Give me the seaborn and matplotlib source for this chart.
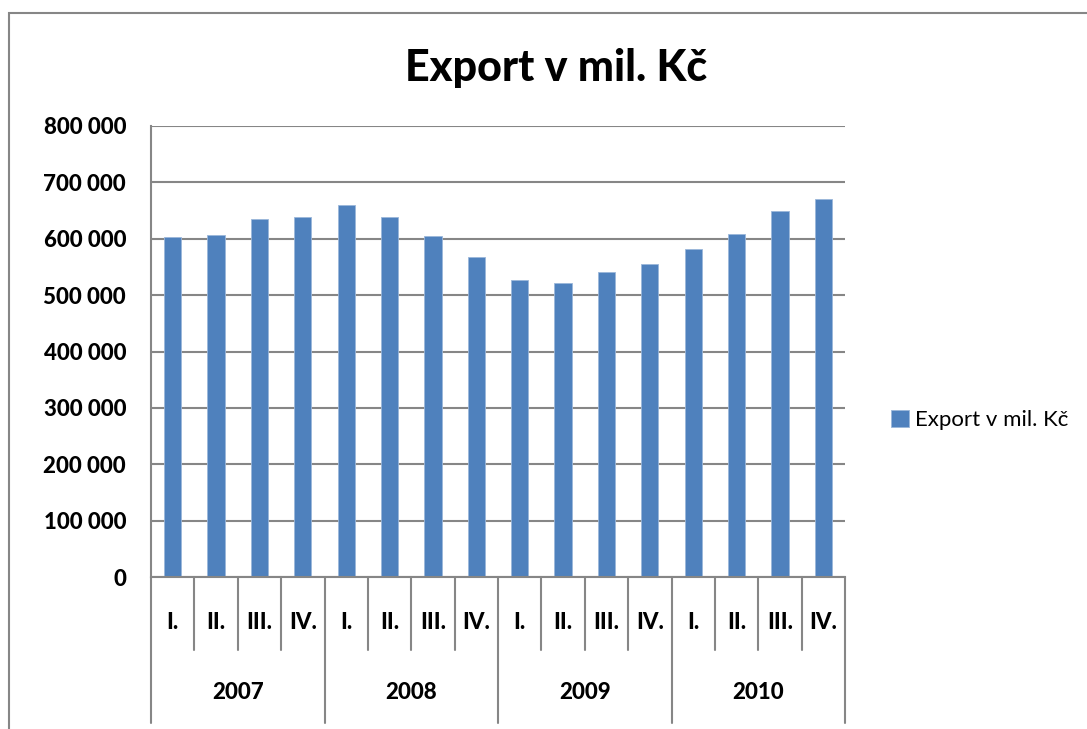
import numpy as np
import pandas as pd
import seaborn as sns
import matplotlib.pyplot as plt
import matplotlib.transforms as mtransforms
from matplotlib.patches import Rectangle

years = ['2007', '2008', '2009', '2010']
quarters = ['I.', 'II.', 'III.', 'IV.']
export = [603000, 607500, 635000, 639000,
          660000, 638000, 605000, 567500,
          527000, 521500, 541500, 555000,
          581000, 608000, 649000, 671000]
series_name = 'Export v mil. Kč'
y_ticks = [0, 100000, 200000, 300000, 400000, 500000, 600000, 700000, 800000]

df = pd.DataFrame({
    'rok': np.repeat(years, 4),
    'ctvrtleti': quarters * 4,
    'hodnota': export,
})
df['kat'] = df['rok'] + ' ' + df['ctvrtleti']

sns.set_style('white')
plt.rcParams['font.family'] = ['Lato', 'DejaVu Sans']
plt.rcParams['text.color'] = 'black'
plt.rcParams['ytick.labelcolor'] = 'black'
grid_c = '#868686'
bar_c = '#4F81BD'
wt = 'black'

fig = plt.figure(figsize=(10.87, 7.29), dpi=100)
# outer chart frame
fig.patches.append(Rectangle((9 / 1087, -0.05), 1.1, 1 - 13 / 729 + 0.05,
                             transform=fig.transFigure, fill=False,
                             edgecolor=grid_c, lw=1.5))
ax = fig.add_axes([151 / 1087, 1 - 577 / 729, (845 - 151) / 1087, (577 - 126) / 729])

sns.barplot(data=df, x='kat', y='hodnota', color=bar_c, width=0.4,
            saturation=1, label=series_name, ax=ax, edgecolor='#9bb7da', linewidth=0.6)

ax.set_ylim(0, 800000)
ax.set_xlim(-0.5, 15.5)
ax.set_yticks(y_ticks)
ax.set_yticklabels([f'{v:,}'.replace(',', ' ') for v in y_ticks],
                   fontsize=16, fontweight=wt)
ax.set_xticks([])
ax.set_xlabel('')
ax.set_ylabel('')
ax.yaxis.grid(True, color=grid_c, lw=1.5)
ax.set_axisbelow(True)
for s in ['top', 'right']:
    ax.spines[s].set_visible(False)
for s in ['left', 'bottom']:
    ax.spines[s].set_color(grid_c)
    ax.spines[s].set_linewidth(1.5)
ax.tick_params(axis='y', direction='out', length=6, width=1.5, color=grid_c, pad=12)

# hierarchical category axis
trans = mtransforms.blended_transform_factory(ax.transData, ax.transAxes)
for i in range(17):
    xpos = i - 0.5
    bottom = -0.324 if i % 4 == 0 else -0.162
    ax.plot([xpos, xpos], [0, bottom], transform=trans, color=grid_c,
            lw=1.5, clip_on=False)
for i, row in df.iterrows():
    ax.text(i, -0.1, row['ctvrtleti'], transform=trans, ha='center', va='center',
            fontsize=16, fontweight=wt)
for j, yr in enumerate(years):
    ax.text(j * 4 + 1.5, -0.257, yr, transform=trans, ha='center', va='center',
            fontsize=16, fontweight=wt)

fig.text(556 / 1087, 1 - 68 / 729, 'Export v mil. Kč', ha='center', va='center',
         fontsize=31, fontweight=wt)

ax.legend(loc='center left', bbox_to_anchor=(882 / 1087, 1 - 420 / 729),
          bbox_transform=fig.transFigure, frameon=False, fontsize=16,
          handlelength=0.8, handleheight=0.8, handletextpad=0.3, borderaxespad=0)

fig.savefig('out.png', dpi=100)
